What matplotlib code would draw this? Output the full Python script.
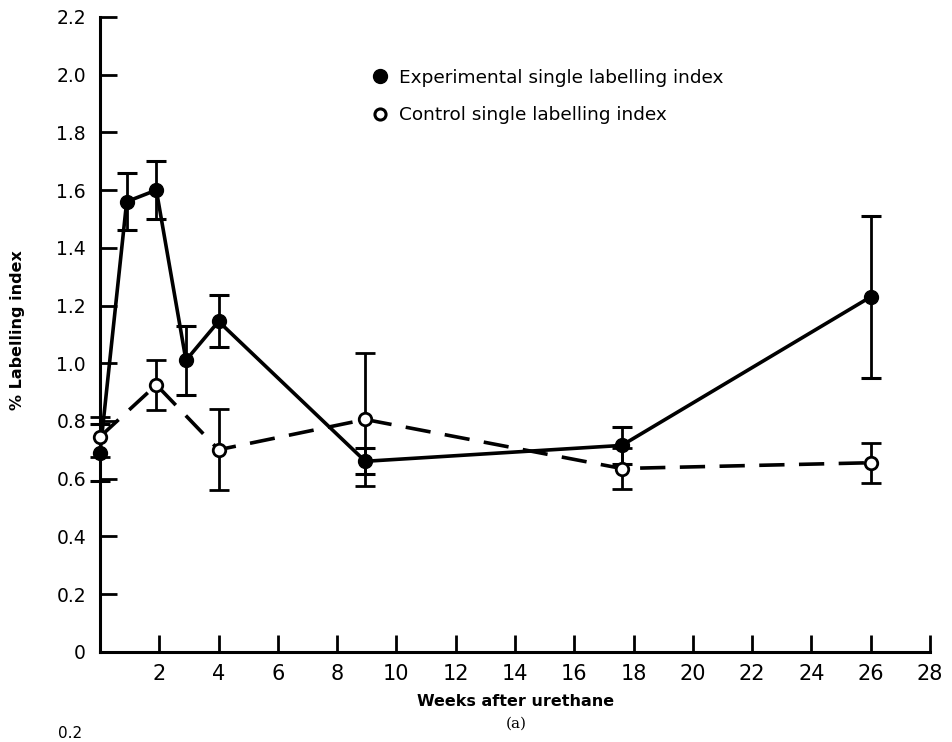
import matplotlib
matplotlib.use("Agg")
import matplotlib.pyplot as plt
from matplotlib.lines import Line2D

# Data
exp_weeks = [0, 0.9, 1.9, 2.9, 4, 8.95, 17.6, 26]
exp_values = [0.69, 1.56, 1.60, 1.01, 1.145, 0.66, 0.715, 1.23]
exp_err = [0.10, 0.10, 0.10, 0.12, 0.09, 0.045, 0.065, 0.28]

ctl_weeks = [0, 1.9, 4, 8.95, 17.6, 26]
ctl_values = [0.745, 0.925, 0.70, 0.805, 0.635, 0.655]
ctl_err = [0.07, 0.087, 0.14, 0.23, 0.07, 0.07]

x_ticks = list(range(2, 29, 2))
y_ticks = [0, 0.2, 0.4, 0.6, 0.8, 1.0, 1.2, 1.4, 1.6, 1.8, 2.0, 2.2]
y_tick_labels = ["0", "0.2", "0.4", "0.6", "0.8", "1.0", "1.2", "1.4", "1.6", "1.8", "2.0", "2.2"]

plt.rcParams['font.family'] = ['DejaVu Sans']

fig = plt.figure(figsize=(9.52, 7.42), dpi=100)
ax = fig.add_axes([100/952, 1-651.7/742, 830/952, (651.7-17)/742])

ax.errorbar(exp_weeks, exp_values, yerr=exp_err, color='black', lw=2.6,
            marker='o', ms=10, mfc='black', mec='black', ecolor='black',
            elinewidth=2.0, capsize=7, capthick=2.2, zorder=3, clip_on=False)
ax.errorbar(ctl_weeks, ctl_values, yerr=ctl_err, color='black', lw=2.6,
            dashes=(7, 4), marker='o', ms=9, mfc='white', mec='black', mew=2,
            ecolor='black', elinewidth=2.0, capsize=7, capthick=2.2, zorder=4,
            clip_on=False)

ax.set_xlim(0, 28)
ax.set_ylim(0, 2.2)
ax.set_xticks(x_ticks)
ax.set_xticklabels([str(t) for t in x_ticks], fontsize=15)
ax.set_yticks(y_ticks)
ax.set_yticklabels(y_tick_labels, fontsize=13.5)
ax.tick_params(direction='in', length=12, width=2)
ax.tick_params(axis='y', pad=10)
ax.tick_params(axis='x', pad=9)
for s in ['top', 'right']:
    ax.spines[s].set_visible(False)
for s in ['left', 'bottom']:
    ax.spines[s].set_linewidth(2.2)

ax.set_xlabel("Weeks after urethane", fontsize=11.5, fontweight='bold')
ax.xaxis.label.set_va('center')
ax.xaxis.set_label_coords(416/830, -(702-651.7)/634.7)
ax.set_ylabel("% Labelling index", fontsize=11.5, fontweight='bold')
ax.yaxis.label.set_va('center')
ax.yaxis.set_label_coords(-(100-18)/830, (651.7-330)/634.7)

fig.text(516/952, 1-724/742, "(a)", fontsize=11, family=['DejaVu Serif'],
         ha='center', va='center')
fig.text(70/952, 1-734/742, "0.2", fontsize=11,
         ha='center', va='center')

handles = [
    Line2D([], [], ls='none', marker='o', ms=10, mfc='black', mec='black'),
    Line2D([], [], ls='none', marker='o', ms=8, mfc='white', mec='black', mew=2.2),
]
labels = ["Experimental single labelling index", "Control single labelling index"]
leg = ax.legend(handles, labels, loc='upper left', bbox_to_anchor=(352/952, 1-52/742),
                bbox_transform=fig.transFigure, frameon=False,
                handletextpad=0.45, labelspacing=1.05, handlelength=1.2,
                prop={'family': ['DejaVu Sans'], 'size': 13.3})

fig.savefig("out.png", dpi=100)
